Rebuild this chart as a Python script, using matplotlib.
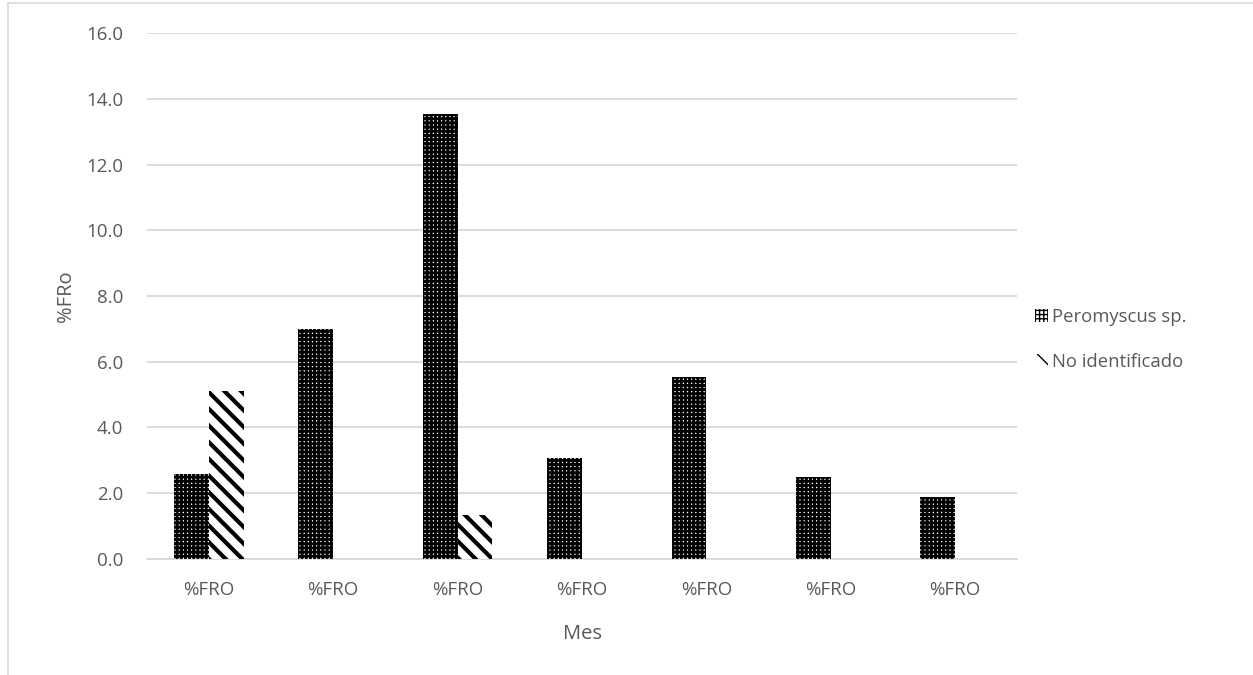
import matplotlib
matplotlib.use('Agg')
import numpy as np
from matplotlib import pyplot as plt
from matplotlib.patches import Rectangle

# --- Data

categories = ['%FRO'] * 7
peromyscus = [2.58, 7.0, 13.53, 3.07, 5.55, 2.48, 1.89]
no_identificado = [5.12, 0.0, 1.33, 0.0, 0.0, 0.0, 0.0]
y_ticks = [0, 2, 4, 6, 8, 10, 12, 14, 16]

TEXT = '#595959'
GRID = '#d9d9d9'

plt.rcParams['font.family'] = ['Open Sans', 'DejaVu Sans']

fig = plt.figure(figsize=(12.53, 6.75), dpi=100)
ax = fig.add_axes([0.117, 0.172, 0.695, 0.779])

x = np.arange(len(categories))
w = 0.28


def hatched_bars(xs, vals, hatch, lw, label):
    with plt.rc_context({'hatch.linewidth': lw}):
        bars = ax.bar(xs, vals, w, facecolor='white', edgecolor='black',
                      linewidth=0, hatch=hatch, label=label, zorder=3)
    for b in bars:
        if hasattr(b, 'set_hatch_linewidth'):
            b.set_hatch_linewidth(lw)
    return bars


b1 = hatched_bars(x - w / 2, peromyscus, '++++', 2.0, 'Peromyscus sp.')
b2 = hatched_bars(x + w / 2, no_identificado, '\\\\', 3.0, 'No identificado')

ax.set_ylim(0, 16)
ax.set_xlim(-0.5, len(categories) - 0.5)
ax.set_yticks(y_ticks)
ax.set_yticklabels([f'{v:.1f}' for v in y_ticks])
ax.set_xticks(x)
ax.set_xticklabels(categories)
ax.tick_params(length=0, labelsize=13.5, colors=TEXT)
ax.tick_params(axis='x', pad=16)
ax.tick_params(axis='y', pad=17)

ax.yaxis.grid(True, color=GRID, linewidth=1.3, zorder=0)
ax.set_axisbelow(True)
for s in ['top', 'right', 'left']:
    ax.spines[s].set_visible(False)
ax.spines['bottom'].set_color(GRID)
ax.spines['bottom'].set_linewidth(1.3)

ax.set_xlabel('Mes', fontsize=14.5, color=TEXT, labelpad=18)
ax.set_ylabel('%FRo', fontsize=14.5, color=TEXT, labelpad=7)

leg = fig.legend(handles=[b1, b2], loc='center left', bbox_to_anchor=(0.813, 0.497),
                 frameon=False, fontsize=13.3, labelcolor=TEXT, handlelength=0.7,
                 handleheight=0.7, handletextpad=0.2, labelspacing=1.45)

# light chart-area border
fig.add_artist(Rectangle((0.006, -0.01), 1.0, 1.005, transform=fig.transFigure,
                         fill=False, edgecolor=GRID, linewidth=1.2))

fig.savefig('out.png', dpi=100)
